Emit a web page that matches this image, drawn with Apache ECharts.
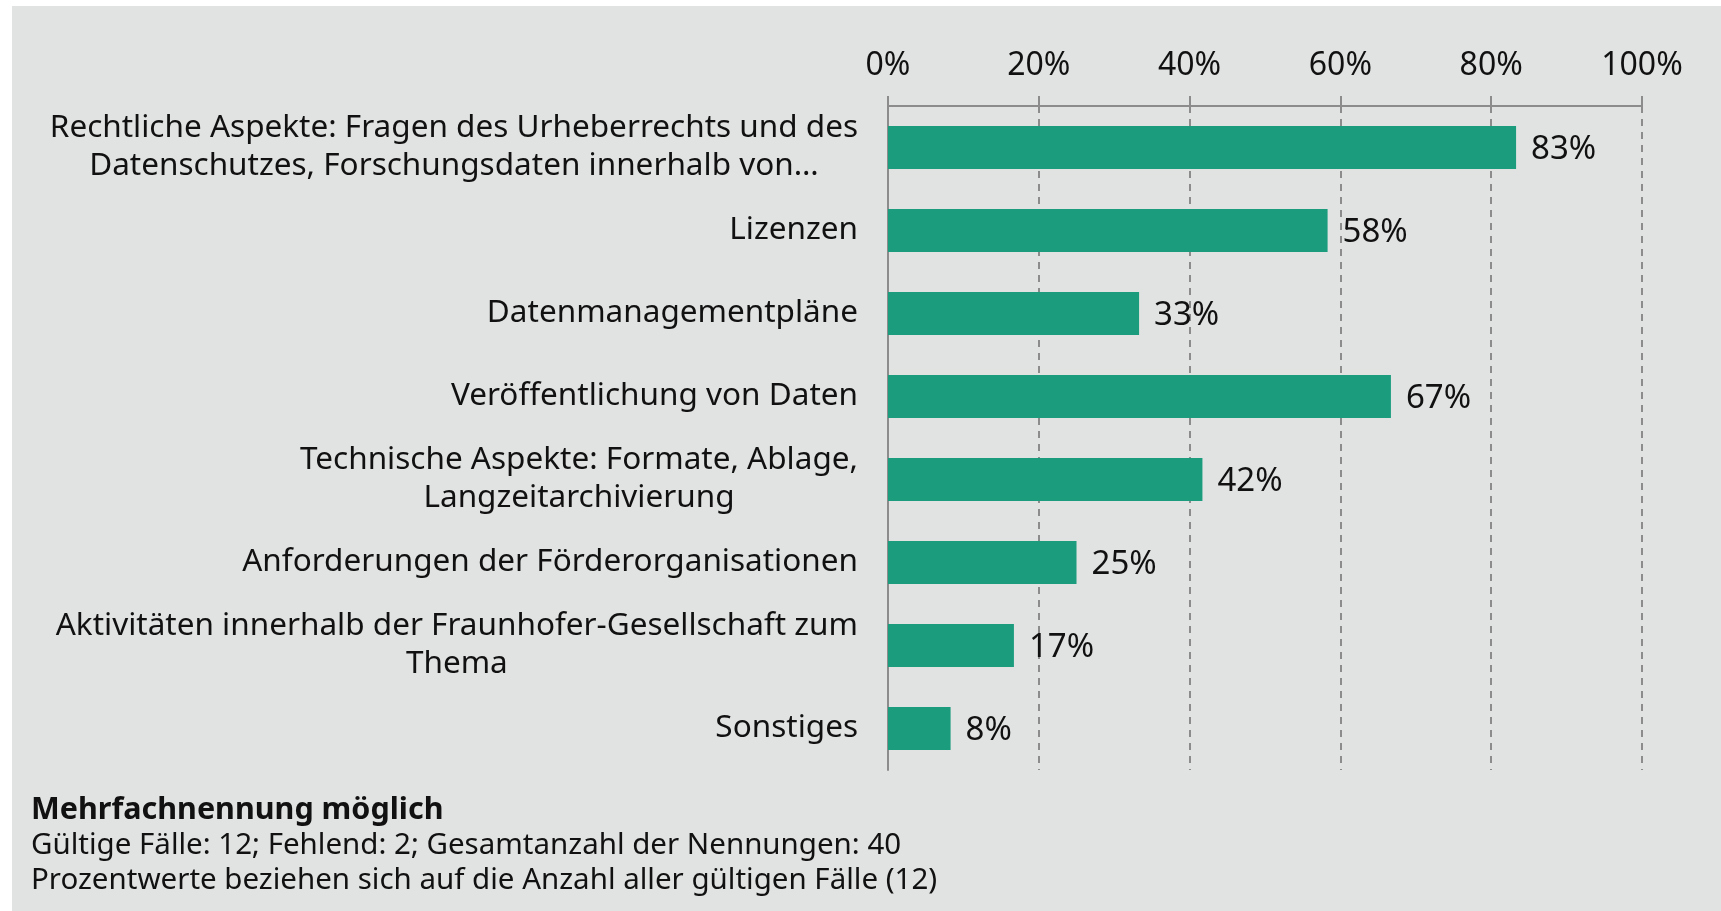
<!DOCTYPE html>
<html>
<head>
<meta charset="utf-8">
<script src="https://cdn.jsdelivr.net/npm/echarts@6/dist/echarts.min.js"></script>
<style>
  html, body { margin: 0; padding: 0; background: #ffffff; }
  #main { width: 1721px; height: 911px; }
</style>
</head>
<body>
<div id="main"></div>
<script>
var categories = [
  "Rechtliche Aspekte: Fragen des Urheberrechts und des\nDatenschutzes, Forschungsdaten innerhalb von…",
  "Lizenzen",
  "Datenmanagementpläne",
  "Veröffentlichung von Daten",
  "Technische Aspekte: Formate, Ablage,\nLangzeitarchivierung",
  "Anforderungen der Förderorganisationen",
  "Aktivitäten innerhalb der Fraunhofer-Gesellschaft zum\nThema",
  "Sonstiges"
];
var shares = [83.3, 58.3, 33.3, 66.7, 41.7, 25, 16.7, 8.3]; // Anteil in %
var ticks = [0, 20, 40, 60, 80, 100];

var footTitle = "Mehrfachnennung möglich";
var footLines = [
  "Gültige Fälle: 12; Fehlend: 2; Gesamtanzahl der Nennungen: 40",
  "Prozentwerte beziehen sich auf die Anzahl aller gültigen Fälle (12)"
];

var font = "Noto Sans";
var axisGray = "#8c8c8c";

var chartDom = document.getElementById("main");
var myChart = echarts.init(chartDom);
var option;

option = {
  backgroundColor: "#ffffff",
  animation: false,
  textStyle: { fontFamily: font },
  graphic: [
    {
      type: "rect",
      left: 12,
      top: 6,
      z: -10,
      shape: { width: 1709, height: 905 },
      style: { fill: "#e1e3e2" },
    },
  ],
  title: {
    left: 31,
    top: 793,
    padding: 0,
    itemGap: 0,
    text: footTitle,
    textStyle: { fontFamily: font, fontSize: 30.5, fontWeight: "bold", color: "#111", lineHeight: 35 },
    subtext: footLines.join("\n"),
    subtextStyle: { fontFamily: font, fontSize: 29.5, color: "#111", lineHeight: 35 },
  },
  grid: {
    left: 888,
    top: 106,
    right: 79,
    bottom: 141,
    containLabel: false,
  },
  xAxis: {
    type: "value",
    position: "top",
    min: ticks[0],
    max: ticks[ticks.length - 1],
    interval: 20,
    axisLine: { show: true, lineStyle: { color: axisGray, width: 2 } },
    axisTick: { show: true, length: 10, lineStyle: { color: axisGray, width: 2 } },
    axisLabel: {
      margin: 24,
      fontFamily: font,
      fontSize: 32,
      color: "#111",
      formatter: "{value}%",
    },
    splitLine: {
      show: true,
      lineStyle: { color: axisGray, width: 2, type: [7, 6] },
    },
  },
  yAxis: {
    type: "category",
    inverse: true,
    data: categories,
    axisLine: { show: true, lineStyle: { color: axisGray, width: 2 } },
    axisTick: { show: false },
    axisLabel: {
      margin: 30,
      fontFamily: font,
      fontSize: 31.5,
      color: "#111",
      lineHeight: 38,
      // Zeilen innerhalb des Labels zentrieren
      formatter: function (v) {
        return v.split("\n").map(function (s) { return "{c|" + s + "}"; }).join("\n");
      },
      rich: {
        c: { align: "center", fontFamily: font, fontSize: 31.5, color: "#111", lineHeight: 38 },
      },
    },
  },
  series: [
    {
      type: "bar",
      data: shares,
      barWidth: 43,
      itemStyle: { color: "#1a9c7d" },
      label: {
        show: true,
        position: "right",
        distance: 15,
        offset: [0, 2],
        fontFamily: font,
        fontSize: 33,
        color: "#111",
        formatter: function (p) { return Math.round(p.value) + "%"; },
      },
    },
  ],
};

option && myChart.setOption(option);
</script>
</body>
</html>
